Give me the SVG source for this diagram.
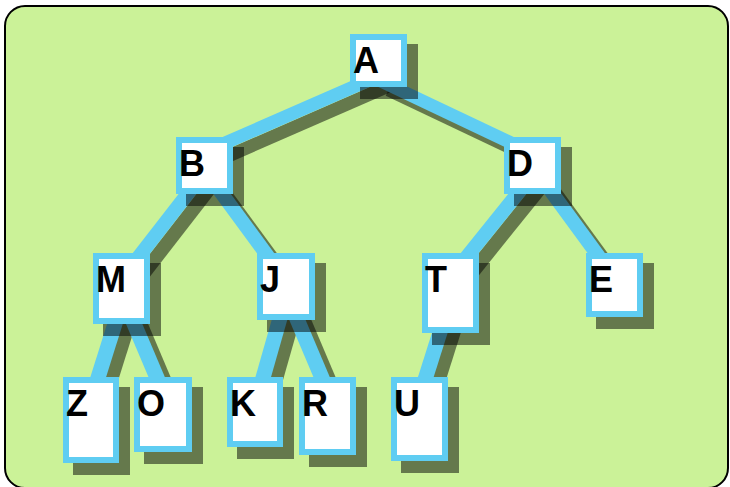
<svg xmlns="http://www.w3.org/2000/svg" width="730" height="487" viewBox="0 0 730 487">
  <style>
    .edge { stroke: #5fcdf2; fill: none; stroke-linecap: butt; }
    .eshadow { stroke: #000000; stroke-opacity: 0.5; fill: none; stroke-linecap: butt; }
    .shadow { fill: #000000; fill-opacity: 0.5; }
    .box { fill: #ffffff; stroke: #5fcdf2; stroke-width: 6; }
    .label { font-family: "Liberation Sans", Arial, sans-serif; font-weight: bold; font-size: 36px; fill: #000000; }
  </style>
  <rect id="background" x="5" y="6" width="723" height="482" rx="20" ry="20" fill="#cbf298" stroke="#000000" stroke-width="2"/>
  <g id="connectors">
    <g transform="translate(10,10)">
      <line class="eshadow" stroke-width="13" x1="378.5" y1="76" x2="204.5" y2="152"/>
      <line class="eshadow" stroke-width="13" x1="378.5" y1="80" x2="532.5" y2="153"/>
      <line class="eshadow" stroke-width="14" x1="204.5" y1="172" x2="121.5" y2="279"/>
      <line class="eshadow" stroke-width="14" x1="204.5" y1="170" x2="286" y2="281"/>
      <line class="eshadow" stroke-width="14" x1="532.5" y1="175" x2="450.5" y2="277"/>
      <line class="eshadow" stroke-width="14" x1="532.5" y1="166" x2="614.5" y2="278"/>
      <line class="eshadow" stroke-width="15" x1="121.5" y1="303" x2="91" y2="400"/>
      <line class="eshadow" stroke-width="15" x1="121.5" y1="294" x2="163" y2="392"/>
      <line class="eshadow" stroke-width="15" x1="286" y1="297" x2="255" y2="406"/>
      <line class="eshadow" stroke-width="15" x1="286" y1="293" x2="327.5" y2="391"/>
      <line class="eshadow" stroke-width="15" x1="450.5" y1="299" x2="419.5" y2="397"/>
    </g>
    <line class="edge" stroke-width="13" x1="378.5" y1="76" x2="204.5" y2="152"/>
    <line class="edge" stroke-width="13" x1="378.5" y1="80" x2="532.5" y2="153"/>
    <line class="edge" stroke-width="14" x1="204.5" y1="172" x2="121.5" y2="279"/>
    <line class="edge" stroke-width="14" x1="204.5" y1="170" x2="286" y2="281"/>
    <line class="edge" stroke-width="14" x1="532.5" y1="175" x2="450.5" y2="277"/>
    <line class="edge" stroke-width="14" x1="532.5" y1="166" x2="614.5" y2="278"/>
    <line class="edge" stroke-width="15" x1="121.5" y1="303" x2="91" y2="400"/>
    <line class="edge" stroke-width="15" x1="121.5" y1="294" x2="163" y2="392"/>
    <line class="edge" stroke-width="15" x1="286" y1="297" x2="255" y2="406"/>
    <line class="edge" stroke-width="15" x1="286" y1="293" x2="327.5" y2="391"/>
    <line class="edge" stroke-width="15" x1="450.5" y1="299" x2="419.5" y2="397"/>
  </g>
  <g id="node-A">
    <rect class="shadow" x="360" y="44" width="58" height="55"/>
    <rect class="box" x="353" y="37" width="51" height="47"/>
    <text class="label" x="353" y="73">A</text>
  </g>
  <g id="node-B">
    <rect class="shadow" x="186" y="147" width="58" height="59"/>
    <rect class="box" x="179" y="140" width="51" height="51"/>
    <text class="label" x="179" y="176">B</text>
  </g>
  <g id="node-D">
    <rect class="shadow" x="514" y="147" width="58" height="59"/>
    <rect class="box" x="507" y="140" width="51" height="51"/>
    <text class="label" x="507" y="176">D</text>
  </g>
  <g id="node-M">
    <rect class="shadow" x="103" y="263" width="58" height="73"/>
    <rect class="box" x="96" y="256" width="51" height="65"/>
    <text class="label" x="96" y="292">M</text>
  </g>
  <g id="node-J">
    <rect class="shadow" x="267" y="263" width="59" height="69"/>
    <rect class="box" x="260" y="256" width="52" height="61"/>
    <text class="label" x="260" y="292">J</text>
  </g>
  <g id="node-T">
    <rect class="shadow" x="432" y="263" width="58" height="82"/>
    <rect class="box" x="425" y="256" width="51" height="74"/>
    <text class="label" x="425" y="292">T</text>
  </g>
  <g id="node-E">
    <rect class="shadow" x="596" y="263" width="58" height="66"/>
    <rect class="box" x="589" y="256" width="51" height="58"/>
    <text class="label" x="589" y="292">E</text>
  </g>
  <g id="node-Z">
    <rect class="shadow" x="73" y="387" width="57" height="88"/>
    <rect class="box" x="66" y="380" width="50" height="80"/>
    <text class="label" x="66" y="416">Z</text>
  </g>
  <g id="node-O">
    <rect class="shadow" x="144" y="387" width="59" height="77"/>
    <rect class="box" x="137" y="380" width="52" height="69"/>
    <text class="label" x="137" y="416">O</text>
  </g>
  <g id="node-K">
    <rect class="shadow" x="237" y="387" width="57" height="72"/>
    <rect class="box" x="230" y="380" width="50" height="64"/>
    <text class="label" x="230" y="416">K</text>
  </g>
  <g id="node-R">
    <rect class="shadow" x="309" y="387" width="58" height="80"/>
    <rect class="box" x="302" y="380" width="51" height="72"/>
    <text class="label" x="302" y="416">R</text>
  </g>
  <g id="node-U">
    <rect class="shadow" x="401" y="387" width="58" height="86"/>
    <rect class="box" x="394" y="380" width="51" height="78"/>
    <text class="label" x="394" y="416">U</text>
  </g>
</svg>
